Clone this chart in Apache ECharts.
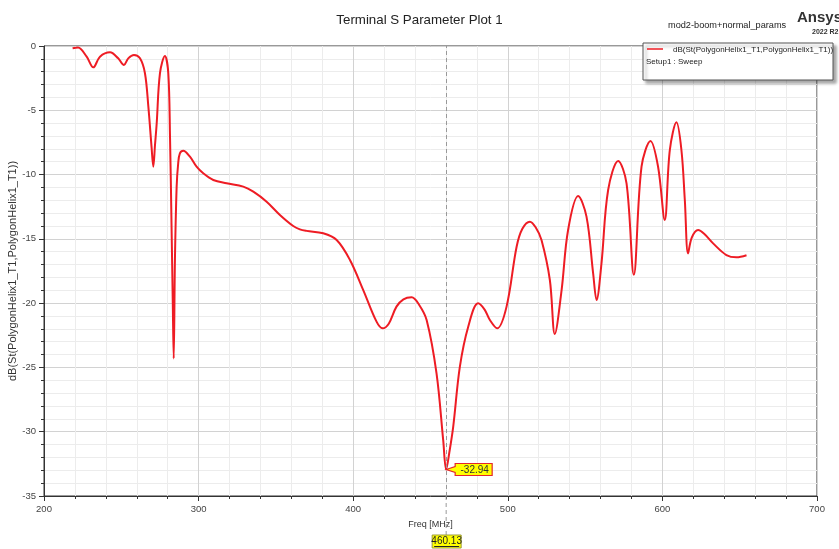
<!DOCTYPE html>
<html>
<head>
<meta charset="utf-8">
<script src="https://cdn.jsdelivr.net/npm/echarts@6/dist/echarts.min.js"></script>
<style>
  html, body { margin: 0; padding: 0; background: #fff; }
  #chart { width: 839px; height: 549px; }
</style>
</head>
<body>
<div id="chart"></div>
<script>
// Return loss sweep of the helix port, frequency in MHz
const freqMHz = [
  218.5, 222.0, 227.6, 231.9, 236.2, 242.7, 248.0, 251.7, 254.5, 258.2,
  262.1, 265.3, 267.5, 269.6, 270.7, 271.8, 272.9, 275.0, 278.2, 280.4,
  281.5, 282.5, 283.3, 283.9, 284.7, 285.8, 286.8, 287.9, 290.1, 294.4,
  298.7, 303.0, 309.5, 318.1, 328.9, 335.4, 344.0, 352.6, 361.2, 365.5,
  369.9, 380.6, 389.3, 397.9, 406.5, 415.1, 419.0, 423.0, 428.0, 432.5,
  437.8, 442.5, 447.5, 453.9, 458.2, 460.13, 462.2, 464.7, 469.0, 474.4,
  480.8, 485.0, 488.4, 493.1, 499.2, 505.7, 509.5, 514.3, 518.0, 521.8,
  527.2, 530.4, 534.8, 539.0, 545.5, 550.9, 555.2, 557.4, 560.6, 564.9,
  571.4, 576.8, 581.5, 586.5, 592.3, 597.2, 601.5, 604.8, 609.1, 612.3,
  614.5, 616.6, 619.0, 623.1, 627.0, 632.8, 641.4, 647.9, 654.4
];
const s11dB = [
  -0.18, -0.12, -0.83, -1.66, -0.83, -0.49, -0.96, -1.48, -0.96, -0.70,
  -0.96, -2.12, -4.72, -7.90, -9.39, -7.70, -6.01, -2.12, -0.78, -2.12,
  -7.00, -14.00, -20.00, -24.30, -16.60, -10.94, -9.12, -8.35, -8.14, -8.61,
  -9.39, -9.90, -10.42, -10.68, -10.94, -11.33, -12.11, -13.14, -14.00, -14.26,
  -14.38, -14.57, -15.09, -16.64, -18.98, -21.44, -21.96, -21.60, -20.27, -19.70,
  -19.55, -20.10, -21.31, -25.46, -30.64, -32.94, -31.60, -29.60, -24.94, -21.83,
  -20.01, -20.50, -21.31, -21.96, -20.27, -15.61, -14.20, -13.66, -14.10, -15.09,
  -18.20, -22.40, -18.98, -14.31, -11.67, -13.27, -17.68, -19.76, -16.90, -11.20,
  -8.94, -10.68, -17.80, -9.39, -7.39, -9.39, -13.53, -8.09, -5.94, -8.09,
  -11.98, -16.13, -14.90, -14.31, -14.60, -15.35, -16.26, -16.44, -16.28
];

// Marker readout
const markerFreq = 460.13;
const markerValue = -32.94;

const xTicks = [200, 700, 100];   // min, max, interval
const yTicks = [-35, 0, 5];

const chartTitle = 'Terminal S Parameter Plot 1';
const designName = 'mod2-boom+normal_params';
const traceName = 'dB(St(PolygonHelix1_T1,PolygonHelix1_T1))';
const setupName = 'Setup1 : Sweep';

const FONT = '"Liberation Sans", Arial, sans-serif';
const RED = '#ee1c24';

const points = freqMHz.map((f, i) => [f, s11dB[i]]);

const chart = echarts.init(document.getElementById('chart'), null, { renderer: 'canvas' });

const axisCommon = {
  axisLine: { show: true, onZero: false, lineStyle: { color: '#333', width: 1 } },
  axisTick: { show: true, inside: false, length: 5, lineStyle: { color: '#333' } },
  minorTick: { show: true, splitNumber: 5, length: 3, lineStyle: { color: '#333' } },
  splitLine: { show: true, lineStyle: { color: '#d2d2d2', width: 1 } },
  minorSplitLine: { show: true, lineStyle: { color: '#ececec', width: 1 } },
  axisLabel: { color: '#444', fontSize: 9.5, fontFamily: FONT }
};

chart.setOption({
  animation: false,
  backgroundColor: '#ffffff',
  title: {
    text: chartTitle,
    left: 'center',
    top: 9,
    textStyle: { fontSize: 13.3, fontWeight: 'normal', color: '#222', fontFamily: FONT }
  },
  grid: {
    left: 44, right: 22, top: 46, bottom: 53,
    containLabel: false,
    outerBoundsMode: 'none',
    show: true, borderColor: '#333', borderWidth: 1, backgroundColor: 'transparent'
  },
  xAxis: Object.assign({}, axisCommon, {
    type: 'value',
    min: xTicks[0], max: xTicks[1], interval: xTicks[2],
    name: 'Freq [MHz]',
    nameLocation: 'middle',
    nameGap: 24,
    nameTextStyle: { color: '#333', fontSize: 9, fontFamily: FONT },
    axisLabel: Object.assign({}, axisCommon.axisLabel, { margin: 8 })
  }),
  yAxis: Object.assign({}, axisCommon, {
    type: 'value',
    min: yTicks[0], max: yTicks[1], interval: yTicks[2],
    axisLabel: Object.assign({}, axisCommon.axisLabel, { margin: 8 })
  }),
  series: [{
    type: 'line',
    name: traceName,
    data: points,
    smooth: 0.35,
    showSymbol: false,
    lineStyle: { color: RED, width: 2 },
    markLine: {
      silent: true,
      symbol: 'none',
      label: { show: false },
      lineStyle: { color: '#999', type: [4, 3], width: 1 },
      data: [{ xAxis: markerFreq }]
    },
    z: 3
  }]
});

// Marker annotations and header decorations, placed with the chart's own scales
const tip = chart.convertToPixel({ gridIndex: 0 }, [markerFreq, markerValue]);
const axisBottom = chart.convertToPixel({ gridIndex: 0 }, [markerFreq, yTicks[0]]);
const yMid = chart.convertToPixel({ gridIndex: 0 }, [xTicks[0], (yTicks[0] + yTicks[1]) / 2]);
const tx = tip[0], ty = tip[1];
const bx0 = tx + 9, bx1 = tx + 46, btop = ty - 6, bbot = ty + 6;

chart.setOption({
  graphic: [
    // y axis title, vertical
    {
      type: 'text', z: 5,
      x: 13, y: yMid[1], rotation: Math.PI / 2,
      style: { text: traceName, fill: '#333', font: '11px ' + FONT, align: 'center', verticalAlign: 'middle' }
    },
    // dashed marker line continued down to the frequency readout
    {
      type: 'line', silent: true, z: 1,
      shape: { x1: tx, y1: axisBottom[1], x2: tx, y2: 535 },
      style: { stroke: '#999', lineWidth: 1, lineDash: [4, 3] }
    },
    // value flag
    {
      type: 'polygon', z: 10,
      shape: { points: [[tx, ty], [bx0, ty - 3], [bx0, btop], [bx1, btop], [bx1, bbot], [bx0, bbot], [bx0, ty + 3]] },
      style: { fill: '#ffff00', stroke: '#e3262b', lineWidth: 1.2 }
    },
    {
      type: 'text', z: 11,
      x: (bx0 + bx1) / 2 + 1, y: ty + 0.5,
      style: { text: markerValue.toFixed(2), fill: '#333', font: '10px ' + FONT, align: 'center', verticalAlign: 'middle' }
    },
    // frequency readout under the axis
    {
      type: 'rect', z: 10,
      shape: { x: tx - 14, y: 535, width: 29, height: 13 },
      style: { fill: '#ffff00', stroke: '#9a9a3a', lineWidth: 1 }
    },
    {
      type: 'text', z: 11,
      x: tx + 0.5, y: 541.5,
      style: { text: markerFreq.toFixed(2), fill: '#222', font: '10px ' + FONT, align: 'center', verticalAlign: 'middle' }
    },
    {
      type: 'line', z: 11,
      shape: { x1: tx - 12, y1: 546.5, x2: tx + 13, y2: 546.5 },
      style: { stroke: '#222', lineWidth: 1 }
    },
    // design name and product badge
    {
      type: 'text', z: 5,
      x: 668, y: 25,
      style: { text: designName, fill: '#222', font: '9.2px ' + FONT, verticalAlign: 'middle' }
    },
    {
      type: 'text', z: 5,
      x: 797, y: 18,
      style: { text: 'Ansys', fill: '#333', font: 'bold 15px ' + FONT, verticalAlign: 'middle' }
    },
    {
      type: 'text', z: 5,
      x: 812, y: 32,
      style: { text: '2022 R2', fill: '#333', font: 'bold 7px ' + FONT, verticalAlign: 'middle' }
    },
    // trace legend
    {
      type: 'group', z: 20,
      children: [
        {
          type: 'rect',
          shape: { x: 643, y: 43, width: 190, height: 37 },
          style: { fill: '#fff', stroke: '#555', lineWidth: 1,
                   shadowBlur: 3, shadowOffsetX: 3, shadowOffsetY: 3, shadowColor: 'rgba(0,0,0,0.35)' }
        },
        {
          type: 'line',
          shape: { x1: 647, y1: 49, x2: 663, y2: 49 },
          style: { stroke: RED, lineWidth: 1.5 }
        },
        {
          type: 'text', x: 673, y: 50,
          style: { text: traceName, fill: '#222', font: '8px ' + FONT, verticalAlign: 'middle' }
        },
        {
          type: 'text', x: 646, y: 62,
          style: { text: setupName, fill: '#222', font: '8px ' + FONT, verticalAlign: 'middle' }
        }
      ]
    }
  ]
});
</script>
</body>
</html>
